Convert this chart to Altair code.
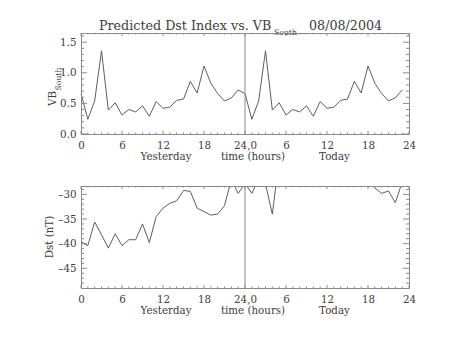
import altair as alt
import pandas as pd

# ---------------- data ----------------
vb_yesterday = [0.66, 0.24, 0.54, 1.36, 0.39, 0.51, 0.31, 0.40, 0.36, 0.46, 0.29, 0.53,
                0.42, 0.44, 0.55, 0.57, 0.86, 0.67, 1.11, 0.83, 0.66, 0.54, 0.59, 0.72]
vb_today = [0.66, 0.24, 0.54, 1.36, 0.39, 0.51, 0.31, 0.40, 0.36, 0.46, 0.29, 0.53,
            0.42, 0.44, 0.55, 0.57, 0.86, 0.67, 1.11, 0.83, 0.66, 0.54, 0.59, 0.72]
dst_yesterday = [-39.6, -40.4, -35.6, -38.2, -40.9, -38.0, -40.4, -39.2, -39.2, -36.0, -39.8, -34.5,
                 -32.8, -31.8, -31.3, -29.2, -29.4, -32.8, -33.5, -34.2, -34.0, -32.3, -27.0, -29.8]
dst_today = [-27.8, -29.8, -26.8, -27.9, -34.0, -23.0, -22.0, -21.0, -20.0, -21.0, -22.0, -23.0,
             -21.0, -20.0, -22.0, -24.0, -25.0, -26.0, -27.4, -28.7, -29.8, -29.3, -31.7, -27.5]

x_major = [0, 6, 12, 18, 24, 30, 36, 42, 48]
x_minor = [h for h in range(49) if h % 6 != 0]
vb_major = [0.0, 0.5, 1.0, 1.5]
vb_minor = [0.1, 0.2, 0.3, 0.4, 0.6, 0.7, 0.8, 0.9, 1.1, 1.2, 1.3, 1.4, 1.6]
dst_major = [-45, -40, -35, -30]
dst_minor = [-48, -47, -46, -44, -43, -42, -41, -39, -38, -37, -36, -34, -33, -32, -31, -29]
divider = [24]

title_main = "Predicted Dst Index vs. VB"
title_sub = "South"
title_date = "08/08/2004"
y1_title, y1_sub = "VB", "South"
y2_title = "Dst (nT)"
x_titles = ["Yesterday", "time (hours)", "Today"]

# ---------------- styling / layout ----------------
FONT = "DejaVu Serif"
INK = "#3c3c3c"
FRAME = "#8a8a8a"
LINE = "#5e5e5e"
W, H = 328, 255          # plot region holding both panels
TOP_H = 101              # top panel height
BOT_Y0 = 153             # bottom panel top
LAB = 10.3

df = pd.DataFrame({
    "hour": list(range(48)),
    "vb": vb_yesterday + vb_today,
    "dst": dst_yesterday + dst_today,
})

xscale = alt.Scale(domain=[0, 48], nice=False, zero=False)
vb_scale = alt.Scale(domain=[0, 1.65], range=[TOP_H, 0], nice=False, zero=False)
dst_scale = alt.Scale(domain=[-49, -28.3], range=[H, BOT_Y0], nice=False, zero=False)

xlabel_expr = ("datum.value == 24 ? '24,0' : (datum.value > 24 ? '' + (datum.value - 24) "
               ": '' + datum.value)")


def xaxis_labels(offset):
    return alt.Axis(orient="bottom", offset=offset, values=x_major, labelExpr=xlabel_expr,
                    ticks=False, tickSize=0, domain=True, domainColor=FRAME, domainWidth=1,
                    labelFont=FONT, labelFontSize=LAB, labelColor=INK, labelPadding=11.5,
                    labelBaseline="middle", labelFlush=False, labelOverlap=False,
                    grid=False, title=None, zindex=1)


def yaxis_labels(values, fmt=None, expr=None):
    kw = dict(orient="left", values=values, ticks=False, tickSize=0, domain=True,
              domainColor=FRAME, domainWidth=1, labelFont=FONT, labelFontSize=LAB,
              labelColor=INK, labelPadding=5, labelBaseline="middle", labelAlign="right",
              labelOverlap=False, labelFlush=False, grid=False, title=None, zindex=1)
    if fmt:
        kw["format"] = fmt
    if expr:
        kw["labelExpr"] = expr
    return alt.Axis(**kw)


def border_axis(orient, offset=0):
    return alt.Axis(orient=orient, offset=offset, labels=False, ticks=False, domain=True,
                    domainColor=FRAME, domainWidth=1, grid=False, title=None, zindex=1)


def yrule(values, scale, x0, x1, axis=None):
    d = pd.DataFrame({"v": values})
    return alt.Chart(d).mark_rule(color=FRAME, strokeWidth=1).encode(
        y=alt.Y("v:Q", scale=scale, axis=axis), x=alt.value(x0), x2=alt.value(x1))


def xrule(values, y0, y1, axis=None, color=FRAME):
    d = pd.DataFrame({"v": values})
    return alt.Chart(d).mark_rule(color=color, strokeWidth=1).encode(
        x=alt.X("v:Q", scale=xscale, axis=axis), y=alt.value(y0), y2=alt.value(y1))


def text_layer(txt, x, y, size, align="left", baseline="alphabetic", angle=None):
    kw = dict(text=txt, font=FONT, fontSize=size, color=INK, align=align, baseline=baseline)
    if angle is not None:
        kw["angle"] = angle
    return alt.Chart(alt.Data(values=[{}])).mark_text(**kw).encode(
        x=alt.value(x), y=alt.value(y))


YMJ, YMN = 6, 3      # y tick lengths
XMJ, XMN = 3, 1.5    # x tick lengths

# bottom panel line first, then a mask over the gap between panels
bot_line = alt.Chart(df).mark_line(color=LINE, strokeWidth=1, clip=True).encode(
    x=alt.X("hour:Q", scale=xscale, axis=xaxis_labels(0)),
    y=alt.Y("dst:Q", scale=dst_scale, axis=yaxis_labels(dst_major, expr="'–' + abs(datum.value)")),
)
mask = alt.Chart(alt.Data(values=[{}])).mark_rect(color="white").encode(
    x=alt.value(-1), x2=alt.value(W + 1), y=alt.value(TOP_H + 1), y2=alt.value(BOT_Y0))

top_line = alt.Chart(df).mark_line(color=LINE, strokeWidth=1).encode(
    x=alt.X("hour:Q", scale=xscale, axis=xaxis_labels(-(H - TOP_H))),
    y=alt.Y("vb:Q", scale=vb_scale, axis=yaxis_labels(vb_major, fmt=".1f")),
)

layers = [
    bot_line, mask, top_line,
    # top panel ticks and borders
    yrule(vb_major, vb_scale, 0, YMJ, axis=border_axis("right")),
    yrule(vb_minor, vb_scale, 0, YMN),
    yrule(vb_major, vb_scale, W - YMJ, W),
    yrule(vb_minor, vb_scale, W - YMN, W),
    xrule(x_major, TOP_H, TOP_H - XMJ, axis=border_axis("top", 0)),
    xrule(x_minor, TOP_H, TOP_H - XMN),
    xrule(x_major, 0, XMJ),
    xrule(x_minor, 0, XMN),
    xrule(divider, 0, TOP_H),
    # bottom panel ticks and borders
    yrule(dst_major, dst_scale, 0, YMJ, axis=border_axis("right")),
    yrule(dst_minor, dst_scale, 0, YMN),
    yrule(dst_major, dst_scale, W - YMJ, W),
    yrule(dst_minor, dst_scale, W - YMN, W),
    xrule(x_major, H, H - XMJ, axis=border_axis("top", -BOT_Y0)),
    xrule(x_minor, H, H - XMN),
    xrule(x_major, BOT_Y0, BOT_Y0 + XMJ),
    xrule(x_minor, BOT_Y0, BOT_Y0 + XMN),
    xrule(divider, BOT_Y0, H),
    # texts
    text_layer(title_main, 18, -3.5, 12.7),
    text_layer(title_sub, 193, 2, 7.7),
    text_layer(title_date, 228, -3.5, 12.7),
    text_layer(y1_title, -25, 73, LAB, angle=270),
    text_layer(y1_sub, -20.5, 57.5, 7.7, angle=270),
    text_layer(y2_title, -28, 204, LAB, align="center", angle=270),
    text_layer(x_titles[0], 85, TOP_H + 23, LAB, align="center", baseline="middle"),
    text_layer(x_titles[1], 172, TOP_H + 23, LAB, align="center", baseline="middle"),
    text_layer(x_titles[2], 253.5, TOP_H + 23, LAB, align="center", baseline="middle"),
    text_layer(x_titles[0], 85, H + 23, LAB, align="center", baseline="middle"),
    text_layer(x_titles[1], 172, H + 23, LAB, align="center", baseline="middle"),
    text_layer(x_titles[2], 253.5, H + 23, LAB, align="center", baseline="middle"),
]

chart = alt.layer(*layers).resolve_scale(
    y="independent"
).resolve_axis(
    x="independent", y="independent"
).properties(
    width=W, height=H,
    autosize=alt.AutoSizeParams(type="none"),
    padding={"left": 81, "top": 33, "right": 44, "bottom": 52},
    background="white",
).configure_view(stroke="transparent")

chart.save("out.html", embed_options={"renderer": "svg", "actions": False})
